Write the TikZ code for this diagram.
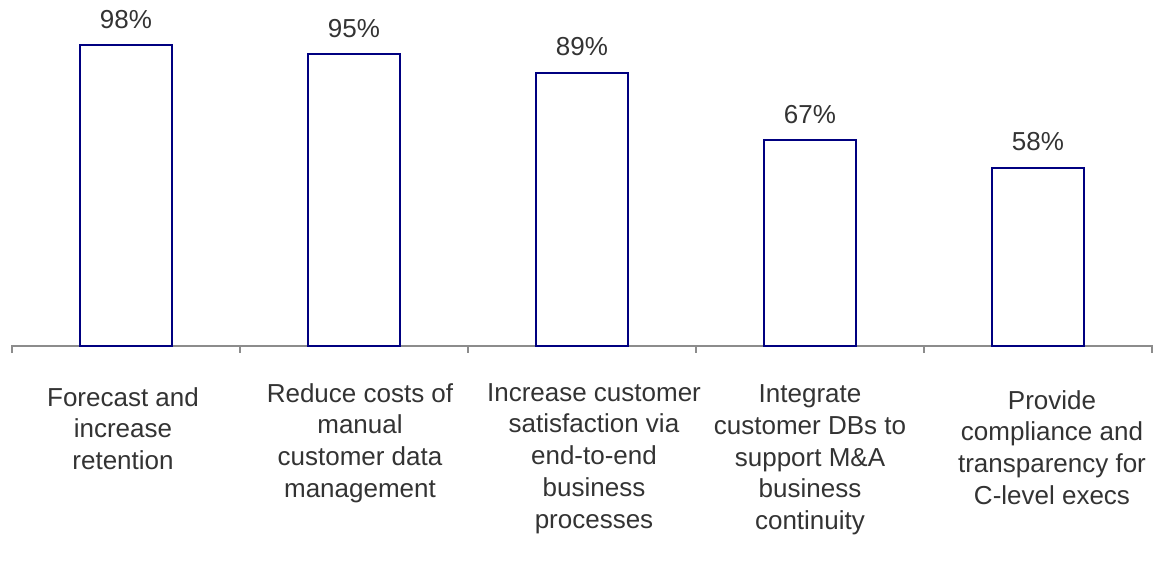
\documentclass[tikz,border=0pt]{standalone}
\usepackage{fontspec}
\setmainfont{Liberation Sans}
\definecolor{txt}{HTML}{333333}
\definecolor{barc}{HTML}{000080}
\definecolor{axisc}{HTML}{8C8C8C}
\begin{document}
\begin{tikzpicture}[x=0.75pt,y=-0.75pt,
  bar/.style={draw=barc,line width=1.5pt,fill=white},
  axisline/.style={draw=axisc,line width=1.3pt},
  pct/.style={anchor=base,inner sep=0pt,text=txt,font=\fontsize{19.5}{23.8}\selectfont},
  cat/.style={anchor=north,inner sep=0pt,align=center,text=txt,font=\fontsize{19.5}{23.8}\selectfont}]
\useasboundingbox (0,0) rectangle (1164,586);
% axis
\draw[axisline] (12,353) -- (12,346) -- (1152,346) -- (1152,353);
\foreach \t in {240,468,696,924}{\draw[axisline] (\t,346) -- (\t,353);}
% bars
\foreach \c/\v/\n/\l in {126/98/a/98\%,354/95/b/95\%,582/89/c/89\%,810/67/d/67\%,1038/58/e/58\%}{
  \pgfmathsetmacro{\top}{346-\v*3.07}
  \draw[bar] (\c-46,346) rectangle (\c+46,\top);
  \node[pct] (p\n) at (\c,\top-17) {\l};
}
% category labels
\node[cat] (ca) at (123,387) {Forecast and\\increase\\retention};
\node[cat] (cb) at (360,383) {Reduce costs of\\manual\\customer data\\management};
\node[cat] (cc) at (594,383) {Increase customer\\satisfaction via\\end-to-end\\business\\processes};
\node[cat] (cd) at (810,384.5) {Integrate\\customer DBs to\\support M\&A\\business\\continuity};
\node[cat] (ce) at (1052,390) {Provide\\compliance and\\transparency for\\C-level execs};
\end{tikzpicture}
\end{document}
